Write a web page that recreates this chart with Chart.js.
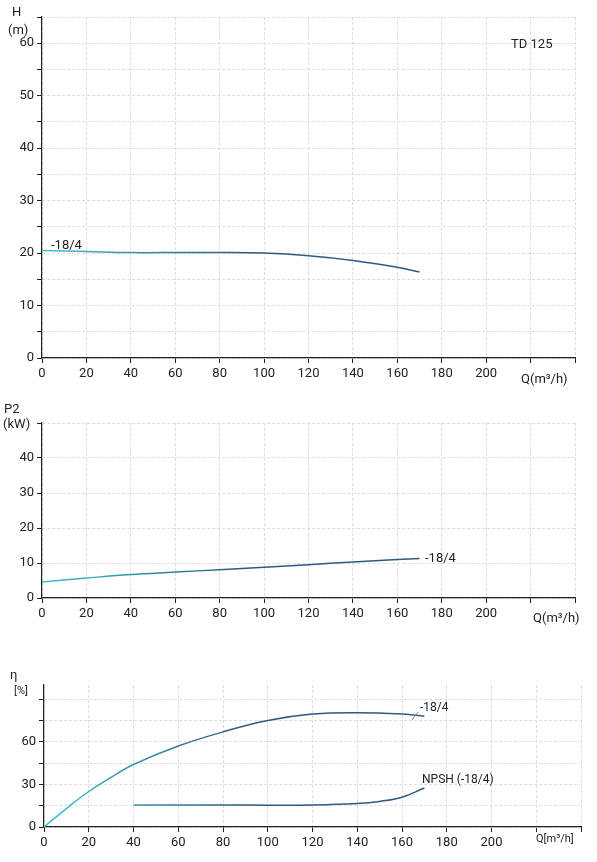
<!DOCTYPE html>
<html><head><meta charset="utf-8">
<script src="https://cdn.jsdelivr.net/npm/chart.js@4"></script>
<style>
body{margin:0;background:#fff;width:597px;height:862px;position:relative;overflow:hidden;font-family:Roboto,sans-serif}
canvas{position:absolute;left:0}
</style></head><body>
<canvas id="c1" style="top:0px" width="597" height="390"></canvas>
<canvas id="c2" style="top:400px" width="597" height="230"></canvas>
<canvas id="c3" style="top:660px" width="597" height="202"></canvas>
<script>
const qH=[0,20,40,60,80,100,120,140,160,170];
const H=[20.5,20.3,20.1,20.1,20.1,20.0,19.5,18.6,17.3,16.4];
const qP=[0,20,40,60,80,100,120,140,160,170];
const P2=[4.6,5.7,6.7,7.4,8.1,8.8,9.5,10.3,11.0,11.3];
const qE=[0,10,20,30,40,60,80,100,120,140,160,170];
const ETA=[0,13,25,35,44,57,67,75,79.5,80.5,79.5,78];
const qN=[40,60,80,100,120,140,150,160,170];
const NPSH=[15.5,15.5,15.5,15.4,15.5,16.5,18,21,27.5];
const xTicks=[0,20,40,60,80,100,120,140,160,180,200];

function grad(ctx){const c=ctx.chart,a=c.chartArea;if(!a)return '#2c5a80';
 const g=c.ctx.createLinearGradient(a.left,0,a.left+200,0);g.addColorStop(0,'#40c0d0');g.addColorStop(1,'#2d5a80');return g;}
function pts(xs,ys){return xs.map((x,i)=>({x:x,y:ys[i]}));}
function ds(xs,ys){return {data:pts(xs,ys),borderColor:grad,borderWidth:1.5,pointRadius:0,tension:0.4,fill:false};}
function texts(list){return {id:'t',afterDraw(c){const x=c.ctx;x.save();x.fillStyle='#222';x.textBaseline='alphabetic';
 list.forEach(t=>{x.font=(t.s||13)+'px Roboto';x.textAlign=t.a||'left';x.fillText(t.t,t.x,t.y);});
 if(list.lines)list.lines.forEach(l=>{x.strokeStyle='#888';x.lineWidth=1;x.beginPath();x.moveTo(l[0],l[1]);x.lineTo(l[2],l[3]);x.stroke();});
 x.restore();}};}
function make(id,datasets,ymax,ystep,gridStep,top,bottomH,left,labelMax,txt,xmax){
 new Chart(document.getElementById(id),{type:'line',data:{datasets},
 options:{responsive:false,animation:false,events:[],
  layout:{padding:{top:top,right:597-xmax,left:0,bottom:0}},
  plugins:{legend:{display:false},tooltip:{enabled:false}},
  scales:{
   x:{type:'linear',min:0,max:240,afterFit(s){s.height=bottomH;},
    ticks:{stepSize:20,color:'#222',font:{size:13,family:'Roboto'},callback:v=>v<=200?v:''},
    grid:{color:'#ddd',tickColor:'#222',tickLength:5},border:{color:'#222',width:1.2,dash:[3,2]}},
   y:{min:0,max:ymax,afterFit(s){s.width=left;},
    ticks:{stepSize:gridStep,color:'#222',font:{size:13,family:'Roboto'},padding:3,callback:v=>(v%ystep===0&&v<=labelMax)?v:''},
    grid:{color:'#ddd',tickColor:'#222',tickLength:5},border:{color:'#222',width:1.2,dash:[3,2]}}
  }},plugins:[texts(txt)]});
}
const t1=[{t:'H',x:12,y:16},{t:'(m)',x:8,y:34},{t:'TD 125',x:511,y:48},{t:'-18/4',x:51,y:249},{t:'Q(m³/h)',x:521,y:383}];
make('c1',[ds(qH,H)],65,10,5,17,32,42,60,t1,575);
const t2=[{t:'P2',x:4,y:13},{t:'(kW)',x:3,y:28},{t:'-18/4',x:425,y:162},{t:'Q(m³/h)',x:533,y:222}];
make('c2',[ds(qP,P2)],50,5,5,23,32,42,45,t2,575);
const t3=[{t:'η',x:10,y:19},{t:'[%]',x:14,y:34,s:11},{t:'-18/4',x:420,y:51,s:12},{t:'NPSH (-18/4)',x:422,y:123,s:12},{t:'Q[m³/h]',x:536,y:182,s:11}];
t3.lines=[[418,52,412,60]];
make('c3',[ds(qE,ETA),ds(qN,NPSH)],100,10,5,25,35,44,80,t3,581);
</script></body></html>
